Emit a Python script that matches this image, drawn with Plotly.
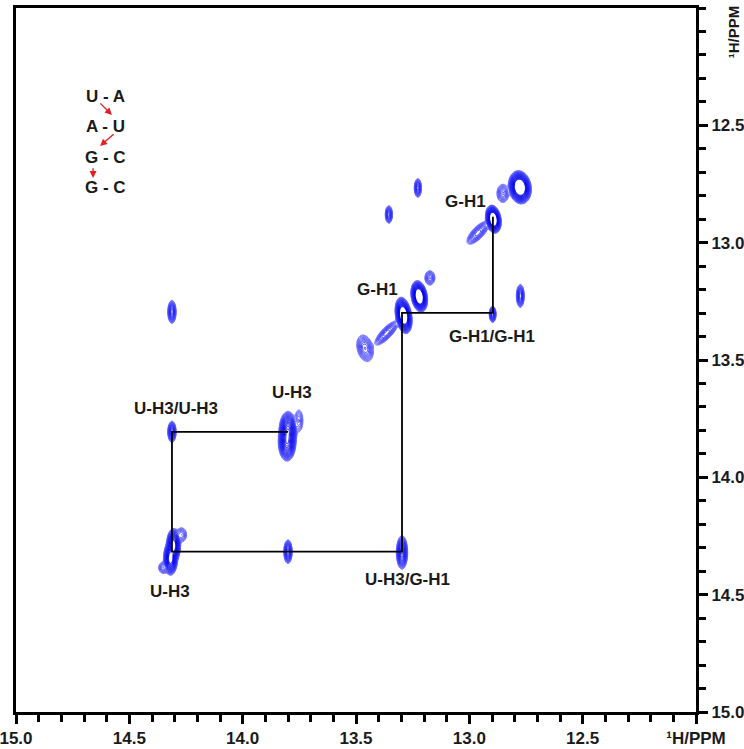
import numpy as np
import plotly.graph_objects as go

# ---------------- data ----------------
# peak list: position (ppm), widths along rotated axes (ppm), rotation (deg), amplitude
peak_x  = [14.305, 14.318, 14.270, 14.350,
           14.312, 13.800, 13.297, 14.312,
           13.800, 13.804, 13.752,
           13.290, 13.221, 13.174, 13.365, 13.460,
           12.894, 12.777, 12.852, 12.962,
           12.897, 12.775, 13.355, 13.227]
peak_y  = [14.290, 14.345, 14.245, 14.385,
           13.806, 14.317, 14.320, 13.295,
           13.800, 13.850, 13.759,
           13.310, 13.229, 13.150, 13.385, 13.450,
           12.900, 12.764, 12.790, 12.958,
           13.305, 13.227, 12.880, 12.767]
peak_su = [0.0095, 0.0095, 0.012, 0.011,
           0.0070, 0.0070, 0.0088, 0.0072,
           0.0125, 0.0125, 0.010,
           0.0100, 0.0100, 0.011, 0.030, 0.0157,
           0.0095, 0.0140, 0.013, 0.028,
           0.0057, 0.0068, 0.0065, 0.0065]
peak_sv = [0.022, 0.022, 0.016, 0.013,
           0.017, 0.019, 0.025, 0.019,
           0.026, 0.026, 0.026,
           0.022, 0.019, 0.015, 0.010, 0.026,
           0.017, 0.020, 0.019, 0.011,
           0.013, 0.019, 0.015, 0.016]
peak_rot = [0, 0, 0, 0,
            0, 0, 0, 0,
            0, 0, 0,
            10, 10, 0, 45, 15,
            10, 10, 0, 45,
            0, 0, 0, 0]
peak_amp = [220, 220, 6, 6,
            35, 35, 60, 28,
            130, 130, 5,
            600, 600, 8, 14, 12,
            600, 600, 8, 14,
            35, 28, 22, 22]

# connectivity walk (ppm)
path_x = [13.800, 14.312, 14.312, 13.297, 13.297, 12.896, 12.896]
path_y = [13.806, 13.806, 14.317, 14.317, 13.299, 13.299, 12.890]

# peak labels
label_text = ["G-H1", "G-H1", "G-H1/G-H1", "U-H3/U-H3", "U-H3", "U-H3", "U-H3/G-H1"]
label_x = [13.019, 13.403, 12.900, 14.294, 13.783, 14.321, 13.275]
label_y = [12.826, 13.201, 13.401, 13.708, 13.640, 14.487, 14.436]

# base pair sketch
bp_text = ["U - A", "A - U", "G - C", "G - C"]
bp_x = [14.603, 14.603, 14.603, 14.603]
bp_y = [12.379, 12.507, 12.635, 12.767]
arrow_tail_x = [14.634, 14.563, 14.660]
arrow_tail_y = [12.400, 12.532, 12.677]
arrow_head_x = [14.577, 14.629, 14.660]
arrow_head_y = [12.456, 12.588, 12.724]

# axis ticks
tick_vals = [15.0, 14.5, 14.0, 13.5, 13.0, 12.5, 12.0]
x_tick_text = ["15.0", "14.5", "14.0", "13.5", "13.0", "12.5", "\u00b9H/PPM"]
y_tick_vals = [12.5, 13.0, 13.5, 14.0, 14.5, 15.0]
y_tick_text = ["12.5", "13.0", "13.5", "14.0", "14.5", "15.0"]
minor_vals = [round(12.0 + 0.1 * i, 1) for i in range(31)]

# ---------------- spectrum grid ----------------
xg = np.arange(12.60, 14.46, 0.0035)
yg = np.arange(12.60, 14.50, 0.005)
X, Y = np.meshgrid(xg, yg)
S = np.zeros_like(X)
for px, py, su, sv, rot, amp in zip(peak_x, peak_y, peak_su, peak_sv, peak_rot, peak_amp):
    t = np.deg2rad(rot)
    dx = X - px
    dy = Y - py
    u = dx * np.cos(t) + dy * np.sin(t)
    v = -dx * np.sin(t) + dy * np.cos(t)
    S += amp * np.exp(-u**2 / (2 * su**2) - v**2 / (2 * sv**2))
Z = np.log(S + 1e-3)
Z = np.clip(Z, -1.0, None)
Z = np.round(Z, 3)

lmax = np.log(150.0)
lstep = np.log(1.25)

fig = go.Figure()
fig.add_trace(go.Contour(
    x=np.round(xg, 4), y=np.round(yg, 4), z=Z,
    contours=dict(start=0.0, end=lmax, size=lstep, coloring="lines"),
    colorscale=[[0, "rgb(120,120,255)"], [0.4, "rgb(50,50,250)"], [1, "rgb(0,0,230)"]],
    zmin=0.0, zmax=lmax,
    line=dict(width=0.9, smoothing=1.0),
    showscale=False, hoverinfo="skip",
))

fig.add_trace(go.Scatter(
    x=path_x, y=path_y, mode="lines",
    line=dict(color="black", width=1.8),
    hoverinfo="skip", showlegend=False,
))

FAM = "Liberation Sans, Arial, sans-serif"
font_b = dict(family=FAM, size=17, color="#1a1a1a", weight="bold")

annotations = []
for t, x, y in zip(label_text, label_x, label_y):
    annotations.append(dict(x=x, y=y, xref="x", yref="y", text=t, showarrow=False, font=font_b))
for t, x, y in zip(bp_text, bp_x, bp_y):
    annotations.append(dict(x=x, y=y, xref="x", yref="y", text=t, showarrow=False, font=font_b))
for tx, ty, hx, hy in zip(arrow_tail_x, arrow_tail_y, arrow_head_x, arrow_head_y):
    annotations.append(dict(x=hx, y=hy, xref="x", yref="y", ax=tx, ay=ty, axref="x", ayref="y",
                            text="", showarrow=True, arrowhead=2, arrowsize=1.0, arrowwidth=1.4,
                            arrowcolor="#e41e26"))
annotations.append(dict(x=1.07, y=12.103, xref="paper", yref="y", text="\u00b9H/PPM",
                        showarrow=False, textangle=-90,
                        font=dict(family=FAM, size=15, color="#1a1a1a", weight="bold")))

tickfont = dict(family=FAM, size=17, color="#1a1a1a", weight="bold")

fig.update_layout(
    width=744, height=749,
    margin=dict(l=16, r=48, t=8, b=37, autoexpand=False),
    paper_bgcolor="white", plot_bgcolor="white",
    showlegend=False,
    annotations=annotations,
    xaxis=dict(range=[15.0, 12.0], tickmode="array", tickvals=tick_vals, ticktext=x_tick_text,
               ticks="outside", ticklen=9, tickwidth=2.5, tickcolor="black", automargin=False,
               ticklabeloverflow="allow",
               minor=dict(tickvals=minor_vals, ticks="outside", ticklen=7, tickwidth=2.5, tickcolor="black"),
               showline=True, linewidth=3, linecolor="black", mirror=True,
               showgrid=False, zeroline=False, tickfont=tickfont),
    yaxis=dict(range=[15.0, 12.0], side="right", tickmode="array", tickvals=y_tick_vals,
               ticktext=y_tick_text, ticks="outside", ticklen=9, tickwidth=2.5, tickcolor="black",
               automargin=False, ticklabeloverflow="allow",
               minor=dict(tickvals=minor_vals, ticks="outside", ticklen=7, tickwidth=2.5, tickcolor="black"),
               showline=True, linewidth=3, linecolor="black", mirror=True,
               showgrid=False, zeroline=False, tickfont=tickfont),
)

fig.write_html("out.html")
